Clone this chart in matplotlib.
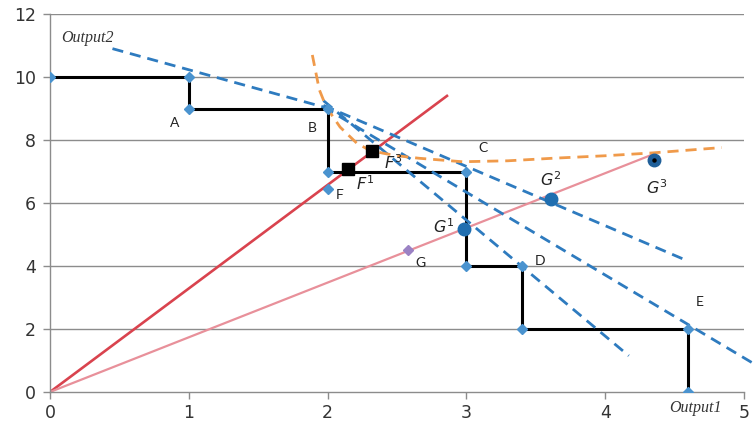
import matplotlib
matplotlib.use("Agg")
import matplotlib.pyplot as plt

plt.rcParams['mathtext.fontset'] = 'dejavusans'

# ---- data ----
stair_x = [0, 1, 1, 2, 2, 3, 3, 3.4, 3.4, 4.6, 4.6]
stair_y = [10, 10, 9, 9, 7, 7, 4, 4, 2, 2, 0]

F_pt = (2.0, 6.45)
G_pt = (2.58, 4.5)

red_line_x = [0, 2.86]
red_line_y = [0, 9.4]
pink_line_x = [0, 4.33]
pink_line_y = [0, 7.52]

F_sq_x = [2.15, 2.32]
F_sq_y = [7.08, 7.65]

G_circ_x = [2.98, 3.61]
G_circ_y = [5.17, 6.13]
G3 = (4.35, 7.37)

dash_lines = [
    ([0.45, 2.05], [10.9, 8.95]),
    ([1.97, 4.6], [9.1, 4.15]),
    ([1.97, 5.07], [9.05, 0.9]),
    ([1.97, 4.17], [9.25, 1.15]),
]

orange_x = [1.89, 1.94, 1.99, 2.09, 2.21, 2.30, 2.40, 2.50, 2.66, 2.97, 3.3, 3.62, 4.0, 4.34, 4.84]
orange_y = [10.7, 9.6, 9.05, 8.41, 7.9, 7.68, 7.58, 7.50, 7.42, 7.31, 7.34, 7.42, 7.5, 7.59, 7.76]

letter_labels = ['A', 'B', 'C', 'D', 'E', 'F', 'G']
letter_pos = [(0.90, 8.54), (1.89, 8.38), (3.12, 7.75), (3.53, 4.16),
              (4.68, 2.86), (2.09, 6.25), (2.67, 4.1)]

sup_labels = [r'$F^1$', r'$F^3$', r'$G^1$', r'$G^2$', r'$G^3$']
sup_pos = [(2.27, 6.62), (2.47, 7.27), (2.84, 5.26), (3.61, 6.75), (4.37, 6.48)]

xticks = [0, 1, 2, 3, 4, 5]
yticks = [0, 2, 4, 6, 8, 10, 12]

# ---- figure ----
fig = plt.figure(figsize=(7.55, 4.34), dpi=100)
ax = fig.add_axes([50/755, 42/434, 694/755, 378/434])
ax.set_xlim(0, 5)
ax.set_ylim(0, 12)

for y in yticks[1:]:
    ax.axhline(y, color='#8c8c8c', lw=1.0, zorder=0)

blue_marker = '#4a93cf'
dash_col = '#2e7bbf'

# staircase
ax.plot(stair_x, stair_y, color='black', lw=2.2, zorder=3)
ax.plot(stair_x, stair_y, ls='none', marker='D', ms=5.5, color=blue_marker, zorder=4)

# rays
ax.plot(red_line_x, red_line_y, color='#d9434e', lw=1.9, zorder=2)
ax.plot(pink_line_x, pink_line_y, color='#e8909a', lw=1.6, zorder=2)

# dashed lines
for i, (lx, ly) in enumerate(dash_lines):
    ax.plot(lx, ly, color=dash_col, lw=2.0, ls=(0, (4, 2.5)), zorder=3,
            clip_on=(i != 2))

# orange curve
ax.plot(orange_x, orange_y, color='#f09a4a', lw=2.0, ls=(0, (4, 2.5)), zorder=3)

# points
ax.plot([F_pt[0]], [F_pt[1]], ls='none', marker='D', ms=5.5, color=blue_marker, zorder=4)
ax.plot([G_pt[0]], [G_pt[1]], ls='none', marker='D', ms=5.5, color='#9b82c4', zorder=4)
ax.plot(F_sq_x, F_sq_y, ls='none', marker='s', ms=8, color='black', zorder=5)
ax.plot(G_circ_x, G_circ_y, ls='none', marker='o', ms=9, color='#1f6eb0', zorder=5)
ax.plot([G3[0]], [G3[1]], ls='none', marker='o', ms=9, color='#1f5f99', zorder=5)
ax.plot([G3[0]], [G3[1]], ls='none', marker='o', ms=2.2, color='black', zorder=6)

# labels
for lab, (x, y) in zip(letter_labels, letter_pos):
    ax.text(x, y, lab, fontsize=10, family='Lato', color='#222222',
            ha='center', va='center', zorder=6)
for lab, (x, y) in zip(sup_labels, sup_pos):
    ax.text(x, y, lab, fontsize=11.5, color='#222222', ha='center', va='center', zorder=6)

ax.text(0.27, 11.24, 'Output2', fontsize=11.5, family='Liberation Serif',
        style='italic', color='#333333', ha='center', va='center')
ax.text(4.65, -0.52, 'Output1', fontsize=11.5, family='Liberation Serif',
        style='italic', color='#333333', ha='center', va='center', clip_on=False)

# axes styling
for s in ['top', 'right']:
    ax.spines[s].set_visible(False)
for s in ['left', 'bottom']:
    ax.spines[s].set_color('#8c8c8c')
    ax.spines[s].set_linewidth(1.0)
ax.set_xticks(xticks)
ax.set_yticks(yticks)
ax.tick_params(axis='both', colors='#8c8c8c', length=5, width=1.0,
               labelcolor='#333333', labelsize=12.5)
ax.tick_params(axis='y', pad=5)
ax.tick_params(axis='x', pad=4)

fig.savefig('out.png', dpi=100)
